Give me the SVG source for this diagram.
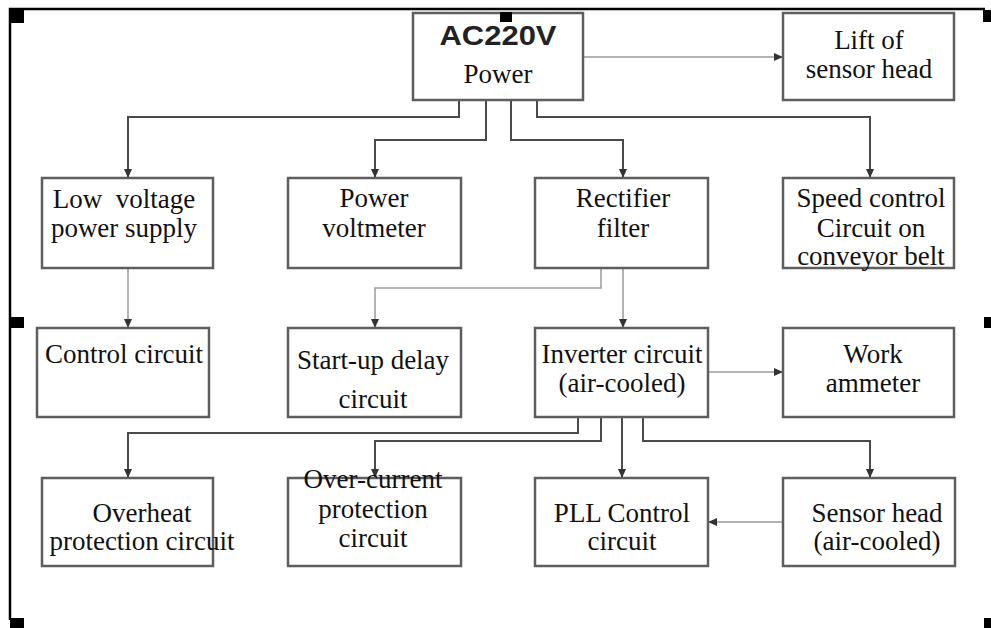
<svg xmlns="http://www.w3.org/2000/svg" width="991" height="628" viewBox="0 0 991 628">
<defs>
<marker id="ah" markerUnits="userSpaceOnUse" markerWidth="9" markerHeight="8" refX="9" refY="4" orient="auto">
<path d="M0,0 L9,4 L0,8 z" fill="#333"/>
</marker>
<style>
.box{fill:#fff;stroke:#5e5e5e;stroke-width:2.5}
.t{font-family:"Liberation Serif","Times New Roman",serif;font-size:27px;fill:#111;text-anchor:middle}
.c{fill:none;stroke:#4a4a4a;stroke-width:2}
.cl{fill:none;stroke:#9a9a9a;stroke-width:1.5}
.frame{stroke:#000;stroke-width:2.5;fill:none}
.sq{fill:#000}
</style>
</defs>
<rect width="991" height="628" fill="#fff"/>
<g id="frame">
<path class="frame" d="M985,9 H10 V620"/>
<rect class="sq" x="10" y="10" width="14" height="13"/>
<rect class="sq" x="10" y="317" width="14" height="11"/>
<rect class="sq" x="10" y="618" width="14" height="10"/>
<rect class="sq" x="983" y="10" width="8" height="12"/>
<rect class="sq" x="984" y="317" width="7" height="11"/>
<rect class="sq" x="984" y="618" width="7" height="10"/>
</g>
<g id="connectors">
<path class="cl" d="M583,57 H783" marker-end="url(#ah)"/>
<path class="c" d="M459,100 V117 H128 V178" marker-end="url(#ah)"/>
<path class="c" d="M486,100 V140 H375 V178" marker-end="url(#ah)"/>
<path class="c" d="M511,100 V140 H623 V178" marker-end="url(#ah)"/>
<path class="c" d="M537,100 V117 H870 V178" marker-end="url(#ah)"/>
<path class="cl" d="M128,268 V328" marker-end="url(#ah)"/>
<path class="cl" d="M601,268 V288 H375 V328" marker-end="url(#ah)"/>
<path class="cl" d="M623,268 V328" marker-end="url(#ah)"/>
<path class="cl" d="M708,372 H783" marker-end="url(#ah)"/>
<path class="c" d="M578,417 V433 H128 V478" marker-end="url(#ah)"/>
<path class="c" d="M601,417 V441 H375 V478" marker-end="url(#ah)"/>
<path class="c" d="M622,417 V478" marker-end="url(#ah)"/>
<path class="c" d="M643,417 V441 H870 V478" marker-end="url(#ah)"/>
<path class="cl" d="M783,522 H708" marker-end="url(#ah)"/>
</g>
<g id="power">
<rect class="box" x="413" y="13" width="170" height="87"/>
<rect class="sq" x="500" y="12" width="12" height="10"/>
<text x="498" y="45" font-family="Liberation Sans, Arial, sans-serif" font-weight="bold" font-size="28" text-anchor="middle" textLength="117" lengthAdjust="spacingAndGlyphs" fill="#222">AC220V</text>
<text class="t" x="498" y="83">Power</text>
</g>
<g id="lift">
<rect class="box" x="783" y="13" width="171" height="87"/>
<text class="t" x="869" y="49">Lift of</text>
<text class="t" x="869" y="78">sensor head</text>
</g>
<g id="lowvoltage">
<rect class="box" x="42" y="178" width="171" height="90"/>
<text class="t" x="124" y="208" xml:space="preserve">Low  voltage</text>
<text class="t" x="124" y="237">power supply</text>
</g>
<g id="voltmeter">
<rect class="box" x="288" y="178" width="173" height="90"/>
<text class="t" x="374" y="207">Power</text>
<text class="t" x="374" y="237">voltmeter</text>
</g>
<g id="rectifier">
<rect class="box" x="535" y="178" width="173" height="90"/>
<text class="t" x="623" y="207">Rectifier</text>
<text class="t" x="623" y="237">filter</text>
</g>
<g id="speed">
<rect class="box" x="783" y="178" width="171" height="90"/>
<text class="t" x="871" y="207">Speed control</text>
<text class="t" x="871" y="237">Circuit on</text>
<text class="t" x="871" y="265">conveyor belt</text>
</g>
<g id="control">
<rect class="box" x="37" y="328" width="172" height="89"/>
<text class="t" x="124" y="363">Control circuit</text>
</g>
<g id="startup">
<rect class="box" x="288" y="328" width="173" height="89"/>
<text class="t" x="373" y="369">Start-up delay</text>
<text class="t" x="373" y="408">circuit</text>
</g>
<g id="inverter">
<rect class="box" x="535" y="328" width="173" height="89"/>
<text class="t" x="622" y="363">Inverter circuit</text>
<text class="t" x="622" y="392">(air-cooled)</text>
</g>
<g id="work">
<rect class="box" x="783" y="328" width="171" height="89"/>
<text class="t" x="873" y="363">Work</text>
<text class="t" x="873" y="392">ammeter</text>
</g>
<g id="overheat">
<rect class="box" x="42" y="478" width="171" height="88"/>
<text class="t" x="142" y="522">Overheat</text>
<text class="t" x="142" y="550">protection circuit</text>
</g>
<g id="overcurrent">
<rect class="box" x="288" y="478" width="173" height="88"/>
<text class="t" x="373" y="488">Over-current</text>
<text class="t" x="373" y="518">protection</text>
<text class="t" x="373" y="547">circuit</text>
</g>
<g id="pll">
<rect class="box" x="535" y="478" width="173" height="88"/>
<text class="t" x="622" y="522">PLL Control</text>
<text class="t" x="622" y="550">circuit</text>
</g>
<g id="sensor">
<rect class="box" x="783" y="478" width="172" height="88"/>
<text class="t" x="877" y="522">Sensor head</text>
<text class="t" x="877" y="550">(air-cooled)</text>
</g>
</svg>
